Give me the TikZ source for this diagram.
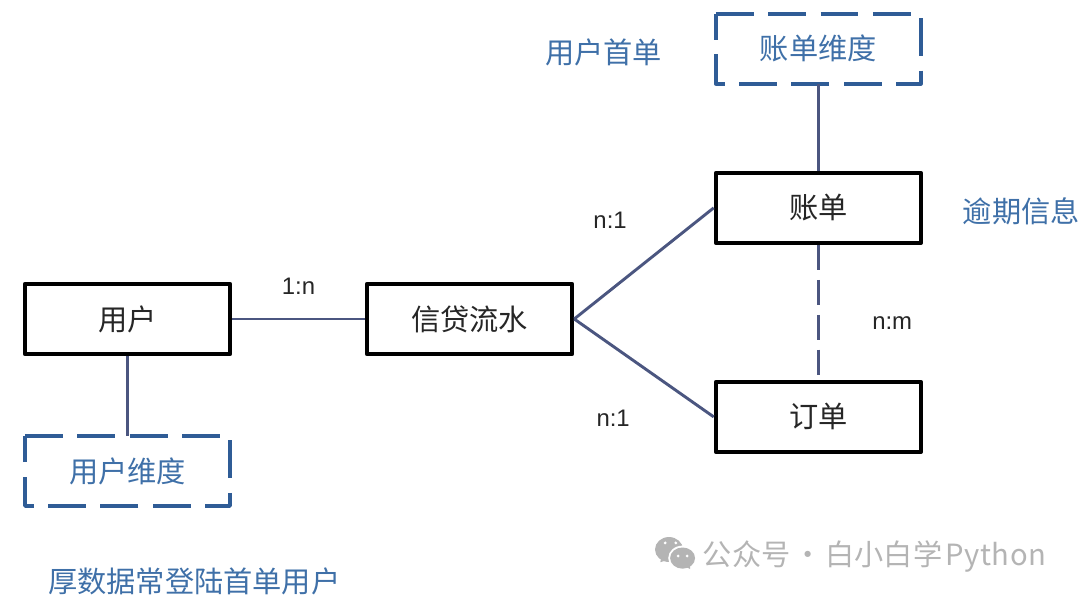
\documentclass[tikz,border=0pt]{standalone}
\usepackage{fontspec}
\setmainfont{Noto Sans CJK SC}
\newfontfamily\latinfont{Liberation Sans}
\usetikzlibrary{arrows}
\definecolor{linkcolor}{HTML}{4B5680}
\definecolor{dimcolor}{HTML}{2F5C96}
\definecolor{notecolor}{HTML}{3F70A8}
\definecolor{markcolor}{HTML}{B4B4B4}
\tikzstyle{entity} = [rectangle, minimum width=5.42cm, minimum height=1.85cm,
    text centered, draw=black, line width=3.4pt, line join=round, fill=white, text=black!85, font=\fontsize{22}{24}\selectfont]
\tikzstyle{dimension} = [rectangle, minimum width=5.42cm, minimum height=1.85cm, outer sep=0pt,
    text centered, text=notecolor, font=\fontsize{22}{24}\selectfont]
\tikzstyle{dimline} = [draw=dimcolor, line width=3pt, line join=round, dash pattern=on 28.5pt off 10.9pt]
\tikzstyle{note} = [text=notecolor, font=\fontsize{22}{24}\selectfont]
\tikzstyle{ratio} = [text=black!85, font=\latinfont\fontsize{18}{20}\selectfont]
\tikzstyle{link} = [line width=2.2pt, draw=linkcolor]
\tikzstyle{watermark} = [text=markcolor, font=\fontsize{22}{24}\selectfont]

\begin{document}
\begin{tikzpicture}
            \useasboundingbox (0,0) rectangle (28.575,15.796);
            \node (user) [entity] at (3.373,7.356) {用户};
            \node (flow) [entity, right of=user, xshift=8.05cm] {信贷流水};
            \node (bill) [entity, right of=flow, xshift=8.23cm, yshift=2.94cm] {账单};
            \node (order) [entity, below of=bill, yshift=-4.53cm] {订单};
            \node (billdim) [dimension, above of=bill, yshift=3.21cm] {账单维度};
            \node (userdim) [dimension, below of=user, yshift=-3.02cm] {用户维度};

            \node (firstbill) [note] at (15.97,14.42) {用户首单};
            \node (overdue) [note] at (27.02,10.2) {逾期信息};
            \node (thick) [note] at (5.14,0.4) {厚数据常登陆首单用户};
            \node (mark) [watermark, anchor=west] at (18.47,1.07) {公众号\hspace{0.1em}·\hspace{0.1em}白小白学\hspace{0.1em}{\addfontfeature{LetterSpace=2}Python}};

            \foreach \dimbox in {billdim,userdim}
                \draw [dimline] (\dimbox.north west) -- (\dimbox.north east) -- (\dimbox.south east) -- (\dimbox.south west) -- cycle;

            \draw [link] (user) -- (flow) node[midway, above, ratio, yshift=0.49cm] {1:n};
            \draw [link] (flow.east) -- (bill.west) node[midway, above left, ratio, xshift=-0.3cm, yshift=0.76cm] {n:1};
            \draw [link] (flow.east) -- (order.west) node[midway, below left, ratio, xshift=-0.22cm, yshift=-0.97cm] {n:1};
            \draw [link, dash pattern=on 18.75pt off 7.5pt] (bill) -- (order) node[midway, right, ratio, xshift=1.27cm, yshift=-0.27cm] {n:m};
            \draw [link] (bill) -- (billdim);
            \draw [link] (user) -- (userdim);

            % watermark icon
            \fill [markcolor] (17.70,1.257) ellipse (0.37 and 0.33);
            \fill [markcolor] (17.72,1.0) -- (17.47,0.92) -- (17.52,1.15) -- cycle;
            \fill [white] (18.06,1.03) ellipse (0.38 and 0.33);
            \fill [markcolor] (18.06,1.03) ellipse (0.33 and 0.28);
            \fill [markcolor] (18.15,0.8) -- (18.26,0.74) -- (18.25,0.95) -- cycle;
            \foreach \x/\y in {17.6/1.43, 17.88/1.43, 17.94/1.085, 18.18/1.085}
                \fill [white] (\x,\y) circle (0.04);
        \end{tikzpicture}
\end{document}
